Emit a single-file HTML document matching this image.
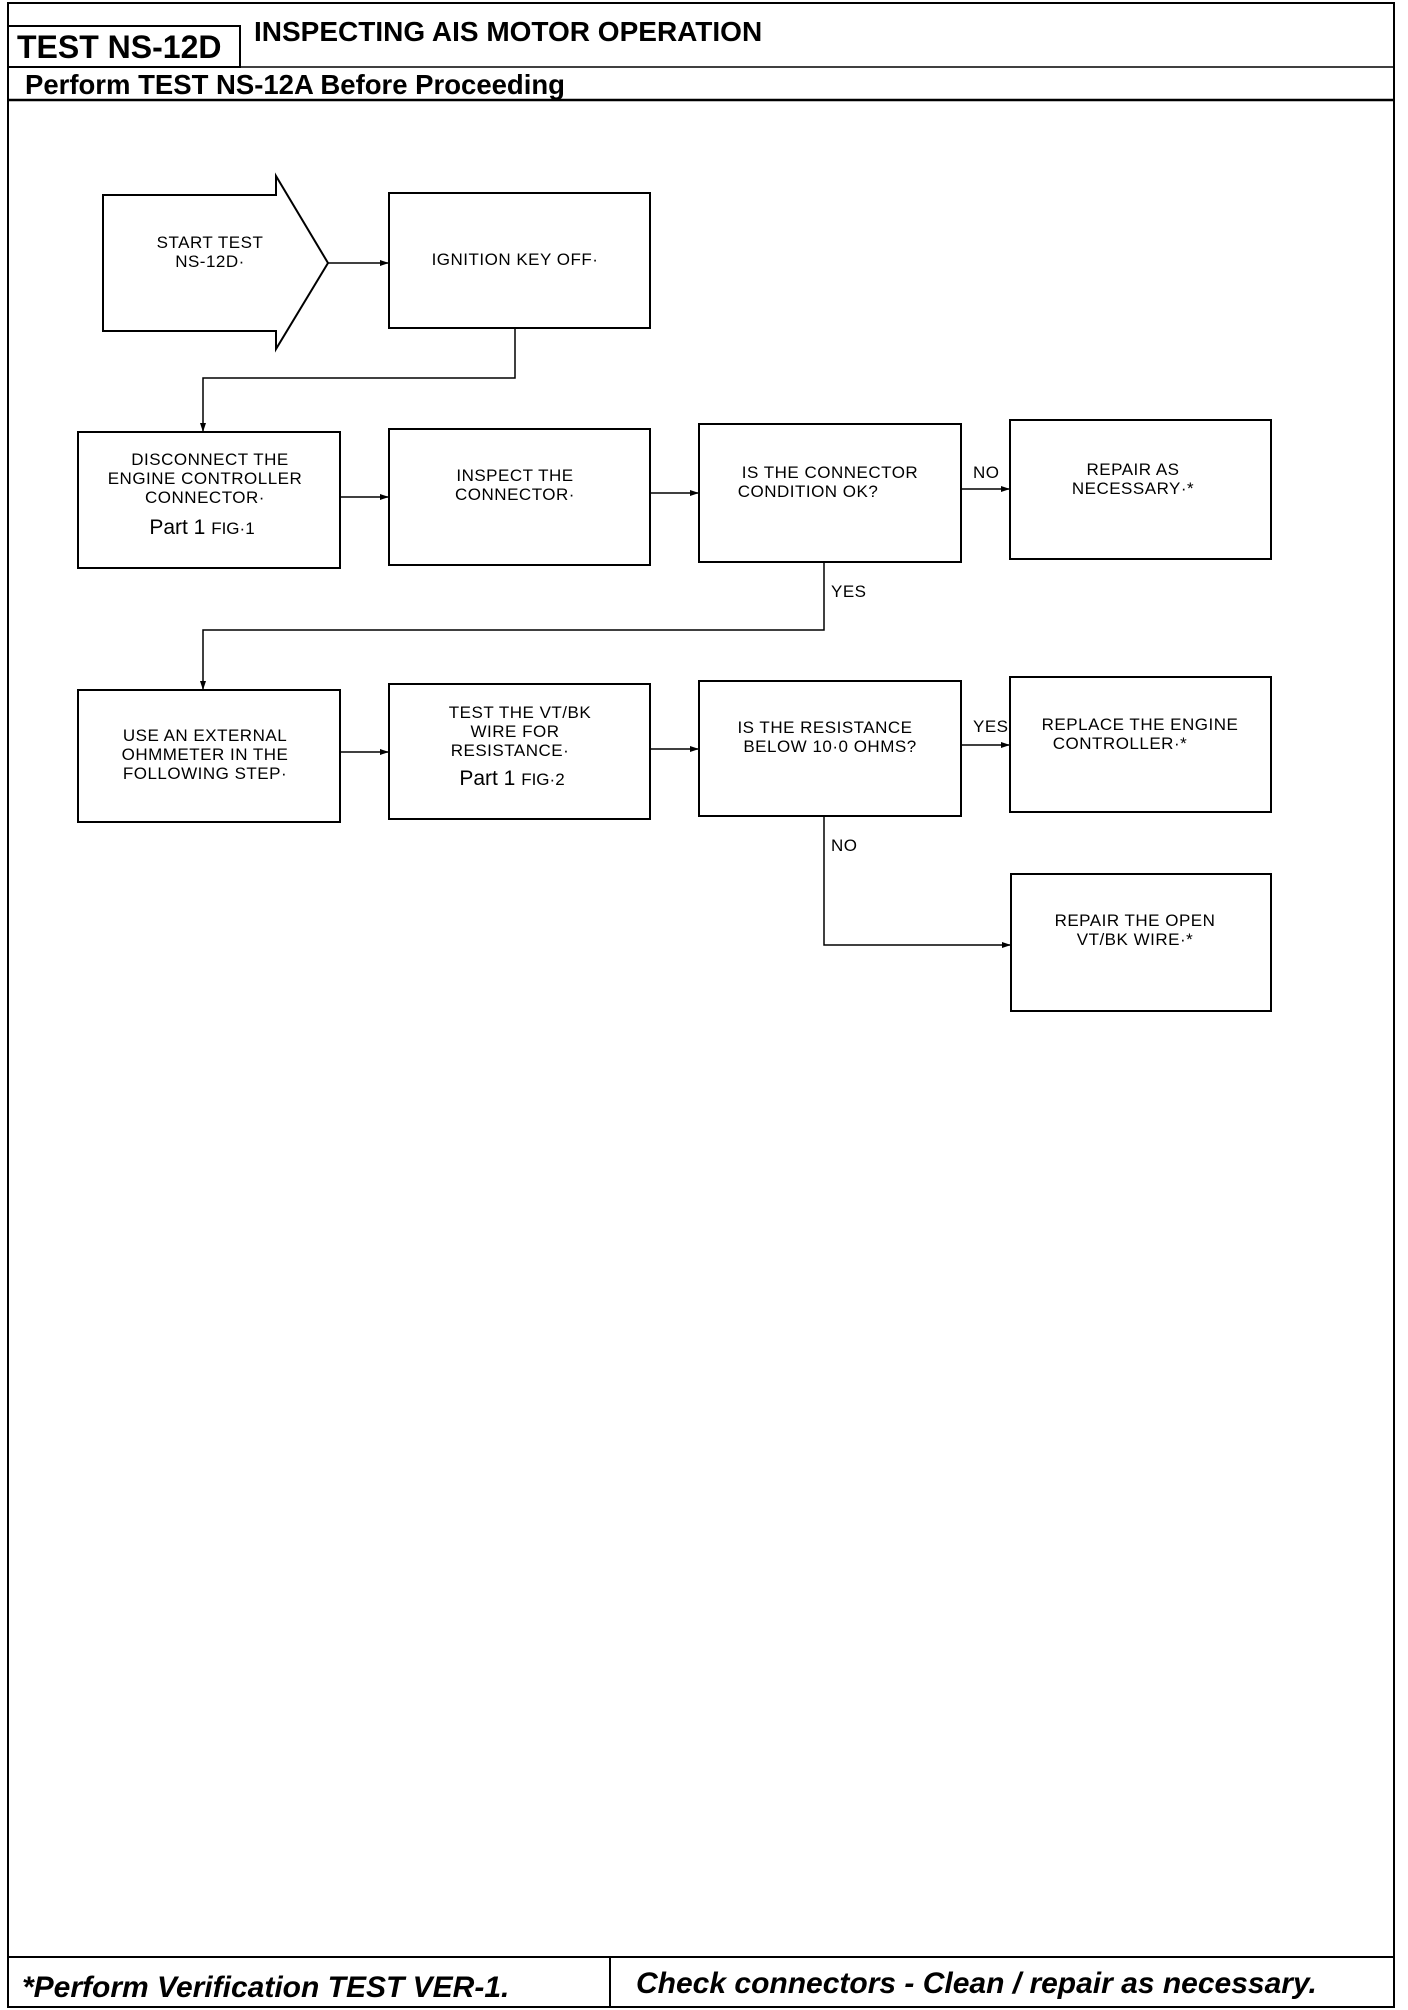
<!DOCTYPE html>
<html><head><meta charset="utf-8"><style>
html,body{margin:0;padding:0;background:#fff;}
svg{display:block}
.t{font-family:"Liberation Sans",sans-serif;font-size:17px;letter-spacing:0.5px;fill:#000}
.h{font-family:"Liberation Sans",sans-serif;font-weight:bold;fill:#000}
.f{font-family:"Liberation Sans",sans-serif;font-weight:bold;font-style:italic;font-size:30px;fill:#000}
</style></head><body>
<svg width="1408" height="2010" viewBox="0 0 1408 2010" xmlns="http://www.w3.org/2000/svg">
<defs><marker id="a" markerWidth="10" markerHeight="8" refX="9" refY="4" orient="auto" markerUnits="userSpaceOnUse"><path d="M0,1 L9,4 L0,7 Z" fill="#000"/></marker></defs>
<g fill="none" stroke="#000" stroke-width="2">
<rect x="8" y="3" width="1386" height="2004"/>
<rect x="8" y="26" width="232" height="41"/>
<line x1="8" y1="67" x2="1394" y2="67" stroke-width="1.5"/>
<line x1="8" y1="100" x2="1394" y2="100" stroke-width="2.5"/>
<line x1="8" y1="1957" x2="1394" y2="1957"/>
<line x1="610" y1="1957" x2="610" y2="2008"/>
<polygon points="103,195 276,195 276,176 328,263 276,349 276,331 103,331"/>
<rect x="389" y="193" width="261" height="135"/>
<rect x="78" y="432" width="262" height="136"/>
<rect x="389" y="429" width="261" height="136"/>
<rect x="699" y="424" width="262" height="138"/>
<rect x="1010" y="420" width="261" height="139"/>
<rect x="78" y="690" width="262" height="132"/>
<rect x="389" y="684" width="261" height="135"/>
<rect x="699" y="681" width="262" height="135"/>
<rect x="1010" y="677" width="261" height="135"/>
<rect x="1011" y="874" width="260" height="137"/>
</g>
<g fill="none" stroke="#000" stroke-width="1.5">
<line x1="328" y1="263" x2="389" y2="263" marker-end="url(#a)"/>
<polyline points="515,328 515,378 203,378 203,432" marker-end="url(#a)"/>
<line x1="340" y1="497" x2="389" y2="497" marker-end="url(#a)"/>
<line x1="650" y1="493" x2="699" y2="493" marker-end="url(#a)"/>
<line x1="961" y1="489" x2="1010" y2="489" marker-end="url(#a)"/>
<polyline points="824,562 824,630 203,630 203,690" marker-end="url(#a)"/>
<line x1="340" y1="752" x2="389" y2="752" marker-end="url(#a)"/>
<line x1="650" y1="749" x2="699" y2="749" marker-end="url(#a)"/>
<line x1="961" y1="745" x2="1010" y2="745" marker-end="url(#a)"/>
<polyline points="824,816 824,945 1011,945" marker-end="url(#a)"/>
</g>
<text class="h" x="17" y="58" font-size="32">TEST NS-12D</text>
<text class="h" x="254" y="41" font-size="28">INSPECTING AIS MOTOR OPERATION</text>
<text class="h" x="25" y="94" font-size="27.5">Perform TEST NS-12A Before Proceeding</text>
<g class="t" text-anchor="middle">
<text x="210" y="248">START TEST</text><text x="210" y="267">NS-12D·</text>
<text x="515" y="265">IGNITION KEY OFF·</text>
<text x="210" y="465">DISCONNECT THE</text><text x="205" y="484">ENGINE CONTROLLER</text><text x="205" y="503">CONNECTOR·</text>
<text x="202" y="534" font-size="21" letter-spacing="0">Part 1 <tspan font-size="17">FIG·1</tspan></text>
<text x="515" y="481">INSPECT THE</text><text x="515" y="500">CONNECTOR·</text>
<text x="830" y="478">IS THE CONNECTOR</text><text x="808" y="497">CONDITION OK?</text>
<text x="1133" y="475">REPAIR AS</text><text x="1133" y="494">NECESSARY·*</text>
<text x="205" y="741">USE AN EXTERNAL</text><text x="205" y="760">OHMMETER IN THE</text><text x="205" y="779">FOLLOWING STEP·</text>
<text x="520" y="718">TEST THE VT/BK</text><text x="515" y="737">WIRE FOR</text><text x="510" y="756">RESISTANCE·</text>
<text x="512" y="785" font-size="21" letter-spacing="0">Part 1  <tspan font-size="17">FIG·2</tspan></text>
<text x="825" y="733">IS THE RESISTANCE</text><text x="830" y="752">BELOW 10·0 OHMS?</text>
<text x="1140" y="730">REPLACE THE ENGINE</text><text x="1120" y="749">CONTROLLER·*</text>
<text x="1135" y="926">REPAIR THE OPEN</text><text x="1135" y="945">VT/BK WIRE·*</text>
</g>
<g class="t">
<text x="973" y="478">NO</text><text x="831" y="597">YES</text>
<text x="973" y="732">YES</text><text x="831" y="851">NO</text>
</g>
<text class="f" x="22" y="1997">*Perform Verification TEST VER-1.</text>
<text class="f" x="636" y="1993">Check connectors - Clean / repair as necessary.</text>
</svg>
</body></html>
